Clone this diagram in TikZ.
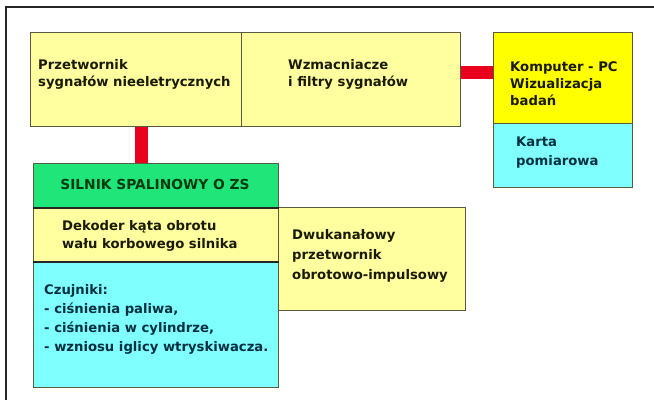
\documentclass[tikz,border=0pt]{standalone}
\usepackage{fontspec}
\setmainfont{DejaVu Sans}
\definecolor{lyel}{HTML}{FFFFA0}
\definecolor{yel}{HTML}{FFFF00}
\definecolor{cyn}{HTML}{80FFFF}
\definecolor{grn}{HTML}{20E67A}
\definecolor{rd}{HTML}{E8001C}
\definecolor{bord}{HTML}{5A5A40}
\definecolor{tyel}{HTML}{1A1A00}
\definecolor{tgrn}{HTML}{003A10}
\definecolor{tcyn}{HTML}{003040}
\tikzset{
  box/.style={draw=bord, line width=1pt, inner sep=0pt, anchor=north west},
  txt/.style={inner sep=0pt, align=left, font=\bfseries\fontsize{13.2}{17}\selectfont},
  conn/.style={draw=rd, line width=13pt},
  sep/.style={draw=black!85, line width=2pt},
}
\begin{document}
\begin{tikzpicture}[x=1pt,y=-1pt]
\useasboundingbox[fill=white] (0,0) rectangle (654,400);
% frame
\draw[line width=2.5pt, black!85] (6,400) -- (6,7) -- (654,7);
% top boxes
\node[box, fill=lyel, minimum width=211pt, minimum height=94pt] (sens) at (30,32) {};
\node[box, fill=lyel, minimum width=219pt, minimum height=94pt] (wzm) at (241,32) {};
% computer
\node[box, fill=yel, minimum width=139pt, minimum height=91pt] (comp) at (493,32) {};
\node[box, fill=cyn, minimum width=139pt, minimum height=64pt] (karta) at (493,123) {};
% engine column
\node[box, fill=grn, minimum width=245pt, minimum height=44pt] (eng) at (33,163) {};
\node[box, fill=lyel, minimum width=245pt, minimum height=54pt] (dek) at (33,207) {};
\node[box, fill=cyn, minimum width=245pt, minimum height=126pt] (czuj) at (33,261) {};
\node[box, fill=lyel, minimum width=187pt, minimum height=103pt] (dwu) at (278,207) {};
\draw[sep] (eng.south west) -- (eng.south east);
\draw[sep] (dek.south west) -- (dek.south east);
% connectors
\draw[conn] ([xshift=5pt]sens.south) -- ([xshift=5pt]sens.south |- eng.north);
\draw[conn] ([yshift=7.5pt]wzm.east) -- ([yshift=7.5pt]wzm.east -| comp.west);
% texts
\node[txt, text=tyel, anchor=west] (t1) at (38,74.5) {Przetwornik\\sygnałów nieeletrycznych};
\node[txt, text=tyel, anchor=west] (t2) at (288,74.5) {Wzmacniacze\\i filtry sygnałów};
\node[txt, text=tyel, anchor=west] (t3) at (510,84) {Komputer - PC\\Wizualizacja\\badań};
\node[txt, text=tcyn, anchor=west, font=\bfseries\fontsize{13.2}{19}\selectfont] (t4) at (516,152.5) {Karta\\pomiarowa};
\node[txt, text=tgrn, font=\bfseries\fontsize{13.8}{17}\selectfont] (t5) at (155,184) {SILNIK SPALINOWY O ZS};
\node[txt, text=tyel, anchor=west, font=\bfseries\fontsize{13.2}{18}\selectfont] (t6) at (62,236) {Dekoder kąta obrotu\\wału korbowego silnika};
\node[txt, text=tyel, anchor=west, font=\bfseries\fontsize{13.2}{20}\selectfont] (t7) at (292,256) {Dwukanałowy\\przetwornik\\obrotowo-impulsowy};
\node[txt, text=tcyn, anchor=west, font=\bfseries\fontsize{13.2}{19}\selectfont] (t8) at (44,319.5) {Czujniki:\\- ciśnienia paliwa,\\- ciśnienia w cylindrze,\\- wzniosu iglicy wtryskiwacza.};
\end{tikzpicture}
\end{document}
